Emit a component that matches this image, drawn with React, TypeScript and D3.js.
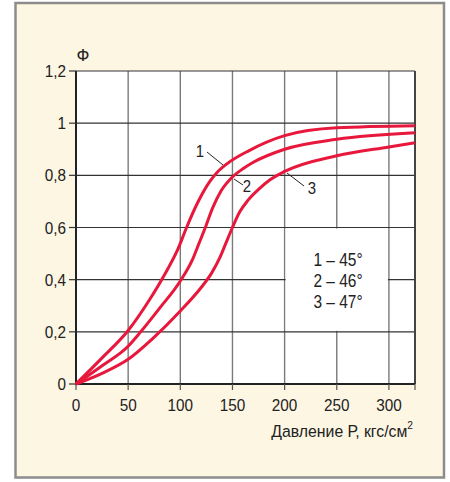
import * as d3 from "d3";

const xTicks = [0, 50, 100, 150, 200, 250, 300];
const yTicks = [0, 0.2, 0.4, 0.6, 0.8, 1, 1.2];
const curve1: [number, number][] = [
  [0, 0], [25, 0.1], [50, 0.205], [70, 0.32], [85, 0.42], [98, 0.52], [106, 0.6],
  [116, 0.69], [128, 0.775], [135, 0.81], [145, 0.845], [166, 0.895], [200, 0.952],
  [250, 0.982], [325, 0.99],
];
const curve2: [number, number][] = [
  [0, 0], [25, 0.07], [50, 0.145], [62, 0.2], [80, 0.29], [100, 0.395], [112, 0.48],
  [118, 0.54], [124, 0.6], [131, 0.675], [139, 0.74], [149, 0.79], [160, 0.825],
  [170, 0.85], [200, 0.9], [250, 0.938], [325, 0.963],
];
const curve3: [number, number][] = [
  [0, 0], [26, 0.043], [50, 0.095], [75, 0.18], [100, 0.28], [120, 0.37], [130, 0.425],
  [138, 0.485], [144, 0.543], [150, 0.6], [157, 0.66], [165, 0.705], [175, 0.746],
  [186, 0.783], [200, 0.815], [250, 0.875], [300, 0.909], [325, 0.925],
];
const legendLines = ["1 – 45°", "2 – 46°", "3 – 47°"];

const font = "'Liberation Sans', Arial, sans-serif";
const red = "#e8173c";

// condensed text: the original uses a narrow face, so squeeze horizontally
function T(props: { x: number; y: number; size: number; sx?: number; anchor?: string; children: any }) {
  const { x, y, size, sx = 0.88, anchor = "middle", children } = props;
  return (
    <text transform={`translate(${x},${y}) scale(${sx},1)`} textAnchor={anchor} fontSize={size} fill="#222">
      {children}
    </text>
  );
}

export default function App() {
  const x = d3.scaleLinear().domain([0, 325]).range([76, 415]);
  const y = d3.scaleLinear().domain([0, 1.2]).range([384, 71]);
  const line = d3
    .line<[number, number]>()
    .x((d) => x(d[0]))
    .y((d) => y(d[1]))
    .curve(d3.curveMonotoneX);
  const fmt = (v: number) => d3.format("~g")(v).replace(".", ",");

  return (
    <svg width={450} height={482} style={{ position: "absolute", left: 0, top: 0 }} fontFamily={font}>
      <rect x={15.5} y={3} width={428.5} height={474.5} fill="#fdf6e2" stroke="#8c8c8c" strokeWidth={2.5} />
      <rect x={x(0)} y={y(1.2)} width={x(325) - x(0)} height={y(0) - y(1.2)} fill="#fff" />
      {xTicks.slice(1).map((t) => (
        <line key={"vx" + t} x1={x(t)} x2={x(t)} y1={y(0)} y2={y(1.2)} stroke="#7a7a7a" strokeWidth={1.4} />
      ))}
      {yTicks.slice(1).map((t) => (
        <line key={"hy" + t} x1={x(0)} x2={x(325)} y1={y(t)} y2={y(t)} stroke="#333" strokeWidth={1.2} />
      ))}
      <rect x={x(200) + 1} y={y(0.6) + 1} width={x(300) - x(200) - 2} height={y(0.2) - y(0.6) - 2} fill="#fff" />
      <line x1={x(325)} x2={x(325)} y1={y(0)} y2={y(1.2)} stroke="#444" strokeWidth={2} />
      <line x1={x(0)} x2={x(0)} y1={y(0) + 1} y2={y(1.2)} stroke="#222" strokeWidth={2} />
      <line x1={x(0) - 1} x2={x(325)} y1={y(0)} y2={y(0)} stroke="#222" strokeWidth={2} />
      {yTicks.map((t) => (
        <g key={"yt" + t}>
          <line x1={x(0) - 7} x2={x(0)} y1={y(t)} y2={y(t)} stroke="#333" strokeWidth={1.2} />
          <T x={66} y={y(t) + 6} size={17} sx={0.9} anchor="end">{fmt(t)}</T>
        </g>
      ))}
      {xTicks.concat([325]).map((t) => (
        <line key={"xt" + t} x1={x(t)} x2={x(t)} y1={y(0)} y2={y(0) + 6} stroke="#555" strokeWidth={1.2} />
      ))}
      {xTicks.map((t) => (
        <T key={"xl" + t} x={x(t)} y={411} size={17} sx={0.9}>{t}</T>
      ))}
      <T x={83} y={61} size={17} sx={1}>Ф</T>
      <T x={413} y={437} size={17} sx={0.93} anchor="end">
        Давление Р, кгс/см<tspan fontSize={11} dy={-8}>2</tspan>
      </T>
      {[curve1, curve2, curve3].map((c, i) => (
        <path key={"c" + i} d={line(c) || ""} fill="none" stroke={red} strokeWidth={3} />
      ))}
      <line x1={207} y1={152} x2={223} y2={165} stroke="#222" strokeWidth={1} />
      <T x={200} y={157} size={17}>1</T>
      <line x1={234} y1={179} x2={243} y2={185} stroke="#222" strokeWidth={1} />
      <T x={247} y={192} size={17}>2</T>
      <line x1={287} y1={173} x2={304} y2={186} stroke="#222" strokeWidth={1} />
      <T x={312} y={194} size={17}>3</T>
      {legendLines.map((s, i) => (
        <T key={s} x={338} y={266 + i * 21} size={18} sx={0.86}>{s}</T>
      ))}
    </svg>
  );
}
